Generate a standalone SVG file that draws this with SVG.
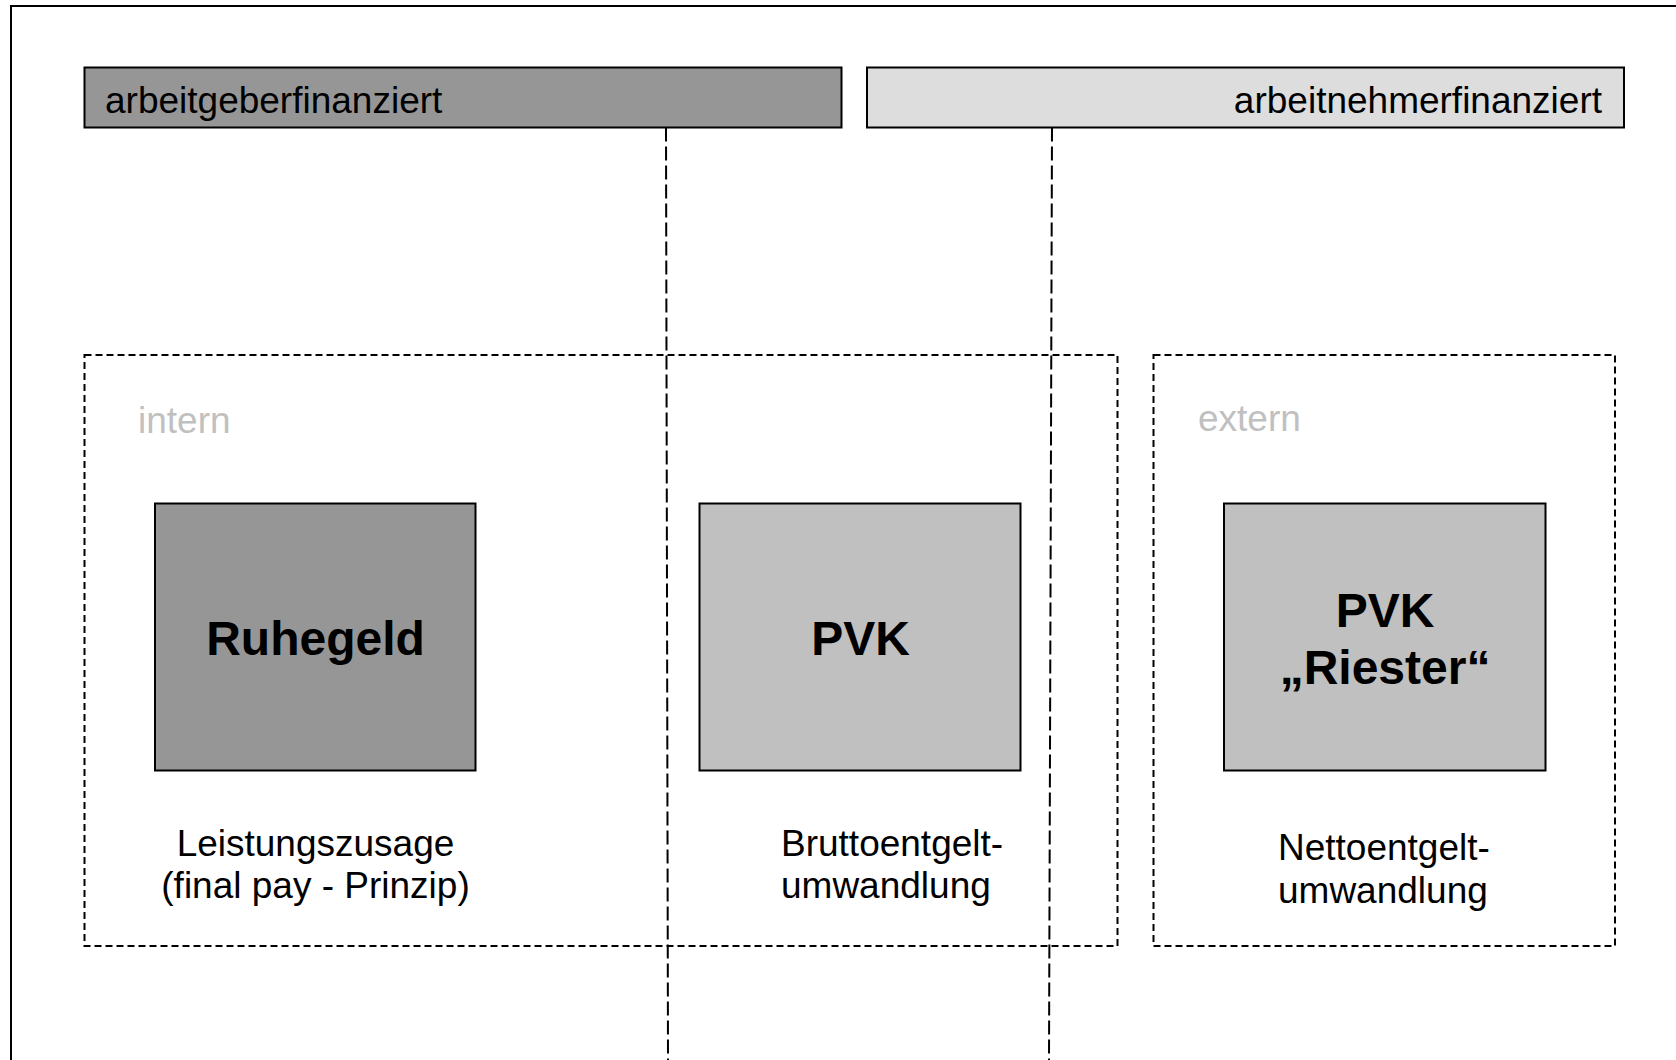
<svg xmlns="http://www.w3.org/2000/svg" width="1676" height="1060" viewBox="0 0 1676 1060">
<style>
text{font-family:"Liberation Sans",Arial,sans-serif;font-size:37px;fill:#000}
.b{font-weight:bold;font-size:48px}
.g{fill:#c0c0c0}
.box{stroke:#000;stroke-width:2}
.sd{fill:none;stroke:#000;stroke-width:2;stroke-dasharray:7 4}
.ld{fill:none;stroke:#000;stroke-width:2;stroke-dasharray:14 5}
</style>
<rect width="1676" height="1060" fill="#fff"/>
<path d="M11 1060 V6 H1676" fill="none" stroke="#000" stroke-width="2"/>
<g id="header-ag">
<rect class="box" x="84.5" y="67.5" width="757" height="60" fill="#969696"/>
<text x="105" y="113">arbeitgeberfinanziert</text>
</g>
<g id="header-an">
<rect class="box" x="867" y="67.5" width="757" height="60" fill="#dddddd"/>
<text x="1602" y="113" text-anchor="end">arbeitnehmerfinanziert</text>
</g>
<g id="group-intern">
<rect class="sd" x="84.5" y="355" width="1033" height="591"/>
<text class="g" x="138" y="433">intern</text>
</g>
<g id="group-extern">
<rect class="sd" x="1153.5" y="355" width="461.5" height="591"/>
<text class="g" x="1198" y="431">extern</text>
</g>
<g id="connectors">
<path class="ld" d="M666 127.5 L668 1060"/>
<path class="ld" d="M1052 127.5 L1049 1060"/>
</g>
<g id="node-ruhegeld">
<rect class="box" x="155" y="503.5" width="320.5" height="267" fill="#969696"/>
<text class="b" x="315.5" y="655" text-anchor="middle">Ruhegeld</text>
<text x="315.5" y="856" text-anchor="middle">Leistungszusage</text>
<text x="315.5" y="898" text-anchor="middle">(final pay - Prinzip)</text>
</g>
<g id="node-pvk">
<rect class="box" x="699.5" y="503.5" width="321" height="267" fill="#c0c0c0"/>
<text class="b" x="860.5" y="655" text-anchor="middle">PVK</text>
<text x="781" y="856">Bruttoentgelt-</text>
<text x="781" y="898">umwandlung</text>
</g>
<g id="node-pvk-riester">
<rect class="box" x="1224" y="503.5" width="321.5" height="267" fill="#c0c0c0"/>
<text class="b" x="1385" y="627" text-anchor="middle">PVK</text>
<text class="b" x="1385" y="684" text-anchor="middle">„Riester“</text>
<text x="1278" y="860">Nettoentgelt-</text>
<text x="1278" y="903">umwandlung</text>
</g>
</svg>
